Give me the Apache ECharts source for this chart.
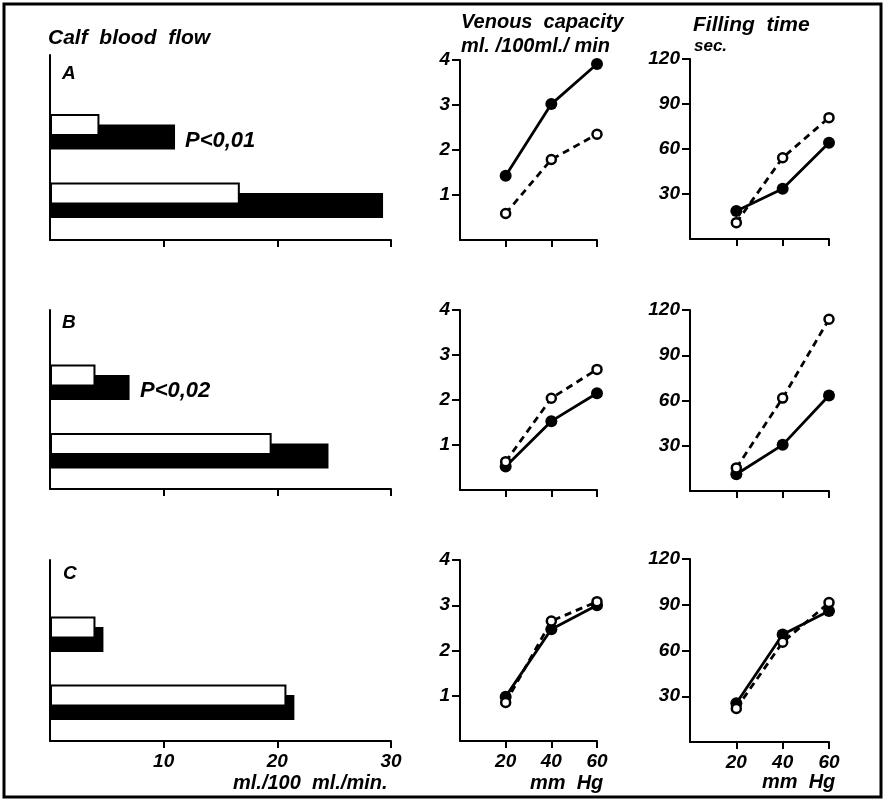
<!DOCTYPE html>
<html>
<head>
<meta charset="utf-8">
<script src="https://cdn.jsdelivr.net/npm/echarts@6/dist/echarts.min.js"></script>
<style>html,body{margin:0;padding:0;background:#fff;}#c{width:885px;height:804px;}</style>
</head>
<body>
<div id="c"></div>
<script>
// ---- data ----
var barRows = ['lower', 'upper'];            // bottom pair, top pair
var barWhiteA = [16.7, 4.35];
var barBlackA = [29.3, 11.0];
var barWhiteB = [19.5, 4.0];
var barBlackB = [24.5, 7.0];
var barWhiteC = [20.8, 4.0];
var barBlackC = [21.5, 4.7];
var barTicks = [10, 20, 30];

var pressure = [20, 40, 60];                 // mm Hg
var venFilledA = [1.43, 3.02, 3.91];
var venOpenA   = [0.59, 1.79, 2.35];
var venFilledB = [0.52, 1.53, 2.15];
var venOpenB   = [0.63, 2.04, 2.68];
var venFilledC = [0.98, 2.47, 3.00];
var venOpenC   = [0.85, 2.65, 3.08];
var venTicks = [1, 2, 3, 4];

var fillFilledA = [18.7, 33.5, 64.2];
var fillOpenA   = [10.9, 54.2, 80.9];
var fillFilledB = [11.1, 30.6, 63.3];
var fillOpenB   = [15.3, 61.6, 113.9];
var fillFilledC = [25.4, 70.5, 85.9];
var fillOpenC   = [22.0, 65.4, 91.4];
var fillTicks = [30, 60, 90, 120];

// ---- build ----
var FONT = '"Liberation Sans", Arial, sans-serif';
var grids = [], xAxes = [], yAxes = [], series = [];
var axisLineStyle = {color: '#000', width: 2};
var labelStyle = {color: '#000', fontSize: 19, fontStyle: 'italic', fontWeight: 'bold', fontFamily: FONT};

function barPanel(frameTop, frameHeight, rowTop, rowHeight, white, black, showLabels) {
  // frame grid: draws the axes
  var gi = grids.length;
  grids.push({left: 50, width: 341, top: frameTop, height: frameHeight});
  xAxes.push({type: 'value', gridIndex: gi, min: 0, max: 30, interval: 10,
    axisLine: {show: true, onZero: false, lineStyle: axisLineStyle},
    axisTick: {show: true, customValues: barTicks, length: 7, lineStyle: {color: '#000', width: 2}},
    axisLabel: Object.assign({show: showLabels, customValues: barTicks, margin: 11}, labelStyle),
    splitLine: {show: false}});
  yAxes.push({type: 'value', gridIndex: gi, min: 0, max: 1,
    axisLine: {show: true, onZero: false, lineStyle: axisLineStyle}, axisTick: {show: false}, axisLabel: {show: false}, splitLine: {show: false}});
  // bar grid: same horizontal scale, rows placed on a category axis
  var bi = grids.length;
  grids.push({left: 50, width: 341, top: rowTop, height: rowHeight});
  xAxes.push({type: 'value', gridIndex: bi, min: 0, max: 30, show: false});
  yAxes.push({type: 'category', gridIndex: bi, data: barRows, boundaryGap: false, show: false});
  series.push({type: 'bar', xAxisIndex: bi, yAxisIndex: bi, data: white, barWidth: 22, barGap: '-52%', z: 3,
    itemStyle: {color: '#fff', borderColor: '#000', borderWidth: 2}});
  series.push({type: 'bar', xAxisIndex: bi, yAxisIndex: bi, data: black, barWidth: 25, barGap: '-52%', z: 2,
    itemStyle: {color: '#000'}});
}

function linePanel(left, width, top, height, ymax, yint, yTicks, filled, open, showLabels) {
  var gi = grids.length;
  grids.push({left: left, width: width, top: top, height: height});
  xAxes.push({type: 'value', gridIndex: gi, min: 0, max: 60, interval: 20,
    axisLine: {show: true, lineStyle: axisLineStyle},
    axisTick: {show: true, customValues: pressure, length: 7, lineStyle: {color: '#000', width: 2}},
    axisLabel: Object.assign({show: showLabels, customValues: pressure, margin: 11}, labelStyle),
    splitLine: {show: false}});
  yAxes.push({type: 'value', gridIndex: gi, min: 0, max: ymax, interval: yint,
    axisLine: {show: true, lineStyle: axisLineStyle},
    axisTick: {show: true, customValues: yTicks, length: 8, lineStyle: {color: '#000', width: 2}},
    axisLabel: Object.assign({show: true, customValues: yTicks, margin: 10}, labelStyle),
    splitLine: {show: false}});
  series.push({type: 'line', xAxisIndex: gi, yAxisIndex: gi, data: pressure.map(function (p, i) { return [p, filled[i]]; }),
    symbol: 'circle', symbolSize: 12, itemStyle: {color: '#000'}, lineStyle: {color: '#000', width: 2.8}, z: 3});
  series.push({type: 'line', xAxisIndex: gi, yAxisIndex: gi, data: pressure.map(function (p, i) { return [p, open[i]]; }),
    symbol: 'circle', symbolSize: 9, itemStyle: {color: '#fff', borderColor: '#000', borderWidth: 2.5},
    lineStyle: {color: '#000', width: 2.8, type: [7, 5]}, z: 4});
}

barPanel(55, 185, 131.8, 68.5, barWhiteA, barBlackA, false);
barPanel(310, 179, 382.3, 68.5, barWhiteB, barBlackB, false);
barPanel(560, 181, 634.3, 68, barWhiteC, barBlackC, true);

linePanel(460, 137, 60, 180, 4, 1, venTicks, venFilledA, venOpenA, false);
linePanel(460, 137, 310, 180, 4, 1, venTicks, venFilledB, venOpenB, false);
linePanel(460, 137, 560, 181, 4, 1, venTicks, venFilledC, venOpenC, true);

linePanel(690, 139, 59, 180, 120, 30, fillTicks, fillFilledA, fillOpenA, false);
linePanel(690, 139, 310, 181, 120, 30, fillTicks, fillFilledB, fillOpenB, false);
linePanel(690, 139, 559, 183, 120, 30, fillTicks, fillFilledC, fillOpenC, true);

function txt(x, y, s, size, align) {
  return {type: 'text', x: x, y: y, z: 10, style: {text: s, fill: '#000', font: 'italic bold ' + size + 'px ' + FONT,
    textAlign: align || 'left', textVerticalAlign: 'middle'}};
}

var graphics = [
  {type: 'rect', shape: {x: 4, y: 4, width: 877, height: 793}, style: {fill: 'none', stroke: '#000', lineWidth: 3}, z: 10},
  txt(48, 38, 'Calf  blood  flow', 21),
  txt(62, 74, 'A', 19),
  txt(62, 323, 'B', 19),
  txt(63, 574, 'C', 19),
  txt(185, 141, 'P<0,01', 22),
  txt(140, 391, 'P<0,02', 22),
  txt(461, 22, 'Venous  capacity', 20),
  txt(461, 46, 'ml. /100ml./ min', 20),
  txt(693, 25, 'Filling  time', 21),
  txt(694, 46, 'sec.', 17),
  txt(233, 783, 'ml./100  ml./min.', 20),
  txt(530, 783, 'mm  Hg', 20),
  txt(762, 782, 'mm  Hg', 20)
];

var chart = echarts.init(document.getElementById('c'), null, {renderer: 'canvas'});
chart.setOption({
  animation: false,
  backgroundColor: '#fff',
  grid: grids,
  xAxis: xAxes,
  yAxis: yAxes,
  series: series,
  graphic: graphics
});
</script>
</body>
</html>
